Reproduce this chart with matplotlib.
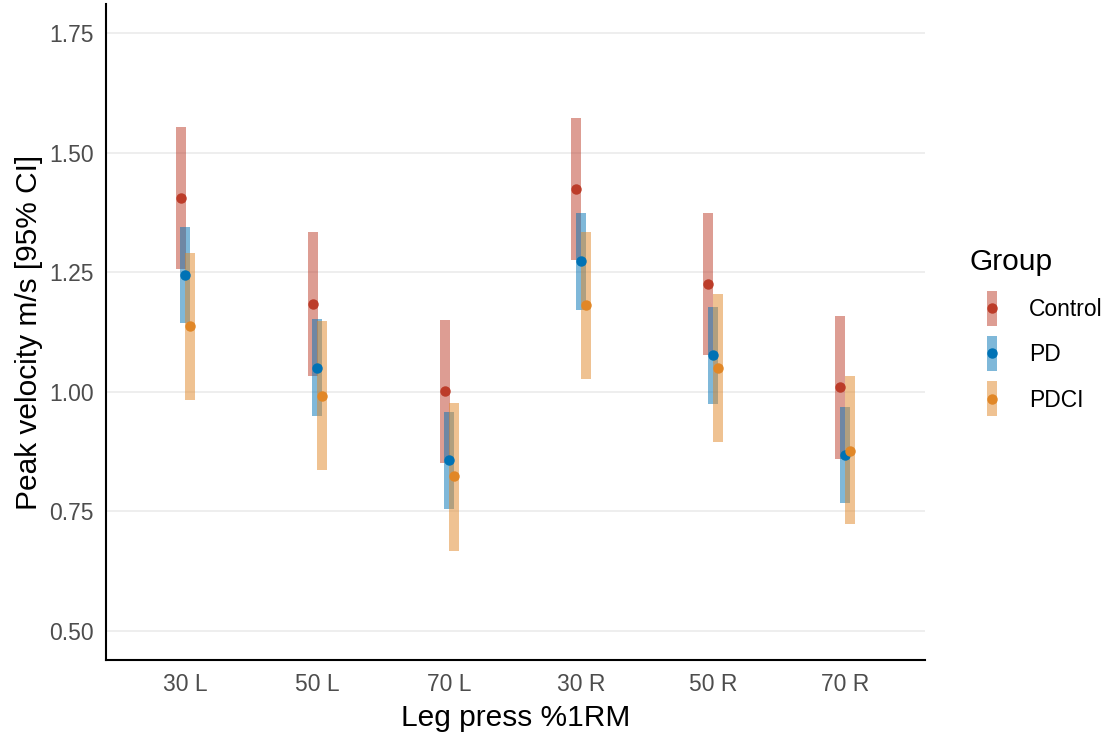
import matplotlib
matplotlib.use("Agg")
import matplotlib.pyplot as plt
import numpy as np
from matplotlib.legend_handler import HandlerBase
from matplotlib.patches import Rectangle
from matplotlib.lines import Line2D

plt.rcParams['font.family'] = ['Liberation Sans', 'DejaVu Sans']

conditions = ["30 L", "50 L", "70 L", "30 R", "50 R", "70 R"]
groups = ["Control", "PD", "PDCI"]
colors = ["#BC3C29", "#0072B5", "#E18727"]

# estimated marginal means of peak velocity with 95% CI
control_mean = [1.405, 1.184, 1.001, 1.424, 1.225, 1.009]
control_lo = [1.256, 1.034, 0.852, 1.276, 1.076, 0.859]
control_hi = [1.554, 1.333, 1.150, 1.572, 1.373, 1.158]

pd_mean = [1.244, 1.050, 0.857, 1.273, 1.077, 0.868]
pd_lo = [1.143, 0.949, 0.756, 1.172, 0.975, 0.767]
pd_hi = [1.344, 1.152, 0.957, 1.373, 1.177, 0.968]

pdci_mean = [1.138, 0.992, 0.823, 1.181, 1.050, 0.877]
pdci_lo = [0.983, 0.837, 0.668, 1.026, 0.895, 0.723]
pdci_hi = [1.291, 1.147, 0.977, 1.335, 1.204, 1.032]

means = [control_mean, pd_mean, pdci_mean]
lows = [control_lo, pd_lo, pdci_lo]
highs = [control_hi, pd_hi, pdci_hi]
dodge = [-0.035, 0.0, 0.035]


class BarDotHandler(HandlerBase):
    # legend key: translucent vertical bar (fixed size, in points) with a dot
    def create_artists(self, legend, orig_handle, xdescent, ydescent,
                       width, height, fontsize, trans):
        c = orig_handle.get_color()
        cx = width / 2 - xdescent
        cy = height / 2 - ydescent
        bw, bh = 7.2, 25.2
        rect = Rectangle((cx - bw / 2, cy - bh / 2), bw, bh,
                         facecolor=c, alpha=0.5, edgecolor='none', transform=trans)
        dot = Line2D([cx], [cy], marker='o', ms=6.5,
                     color=c, linestyle='none', transform=trans)
        return [rect, dot]


fig = plt.figure(figsize=(11.15, 7.34), dpi=100)
ax = fig.add_axes([0.0951, 0.1008, 0.7345, 0.8938])

x = np.arange(len(conditions))

for i in range(len(groups)):
    ax.vlines(x + dodge[i], lows[i], highs[i], color=colors[i],
              lw=7.2, alpha=0.5, capstyle='butt', zorder=2)
for i in range(len(groups)):
    ax.plot(x + dodge[i], means[i], 'o', color=colors[i], ms=6.5, zorder=3)

ax.set_xlim(-0.6, 5.606)
ax.set_ylim(0.4394, 1.8106)
ax.set_yticks([0.5, 0.75, 1.0, 1.25, 1.5, 1.75])
ax.set_yticklabels(["0.50", "0.75", "1.00", "1.25", "1.50", "1.75"])
ax.set_xticks(x)
ax.set_xticklabels(conditions)

ax.grid(axis='y', color='#EBEBEB', lw=1.2, zorder=0)
ax.set_axisbelow(True)
for s in ['top', 'right']:
    ax.spines[s].set_visible(False)
for s in ['left', 'bottom']:
    ax.spines[s].set_linewidth(1.5)
    ax.spines[s].set_color('black')

ax.tick_params(length=0, labelsize=16.5, labelcolor='#4D4D4D')
ax.tick_params(axis='y', pad=9)
ax.tick_params(axis='x', pad=9)

ax.set_xlabel("Leg press %1RM", fontsize=21.5, labelpad=6)
ax.set_ylabel("Peak velocity m/s [95% CI]", fontsize=21.5, labelpad=4)

handles = [Line2D([], [], color=c, label=g) for c, g in zip(colors, groups)]
leg = fig.legend(handles=handles, title="Group", loc='center left',
                 bbox_to_anchor=(0.859, 0.551), frameon=False,
                 fontsize=16.5, title_fontsize=21.5, alignment='left',
                 handler_map={Line2D: BarDotHandler()},
                 handlelength=2.0, handleheight=1.0, labelspacing=0.97,
                 handletextpad=0.6, borderpad=0)

fig.savefig("out.png", dpi=100)
